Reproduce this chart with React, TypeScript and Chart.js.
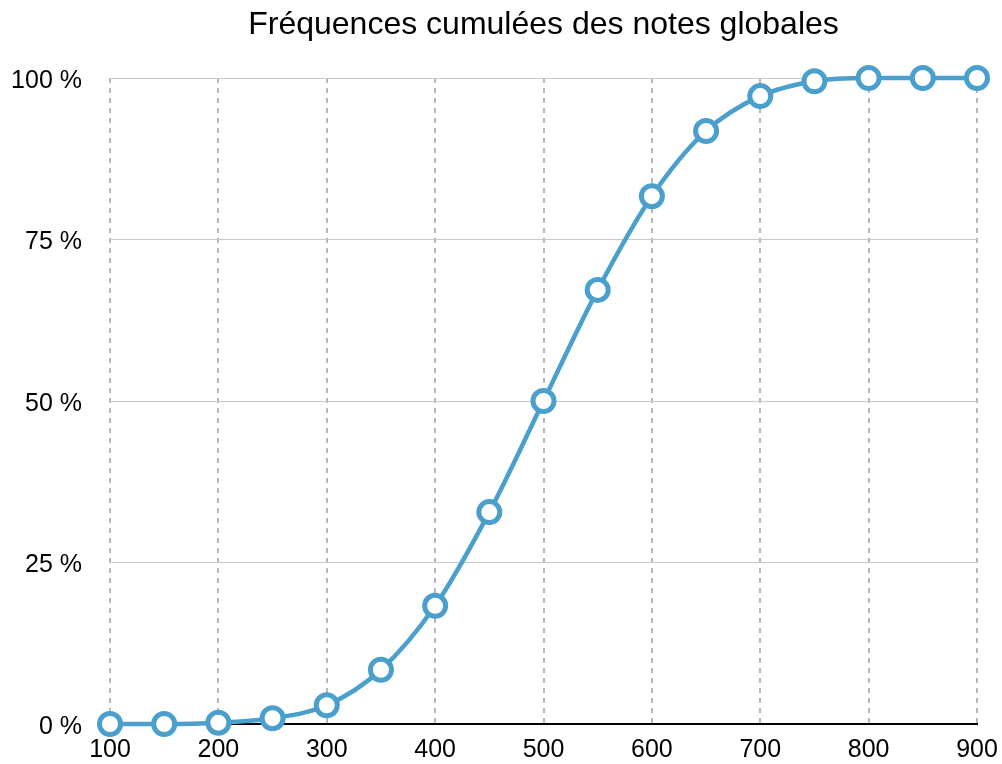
import React, { useEffect, useRef } from "react";
import { Chart, registerables } from "chart.js";

Chart.register(...registerables);

const notes = [100, 150, 200, 250, 300, 350, 400, 450, 500, 550, 600, 650, 700, 750, 800, 850, 900];
const frequences = [0, 0, 0.2, 0.9, 2.9, 8.4, 18.3, 32.8, 50.0, 67.2, 81.7, 91.8, 97.2, 99.5, 100, 100, 100];
const yTicks = [0, 25, 50, 75, 100];
const titre = "Fréquences cumulées des notes globales";

const BLUE = "#4a9fcc";
const FONT = "'Liberation Sans', Arial, Helvetica, sans-serif";

export default function App() {
  const ref = useRef<HTMLCanvasElement | null>(null);

  useEffect(() => {
    document.body.style.margin = "0";
    const ctx = ref.current!.getContext("2d")!;
    const chart = new Chart(ctx, {
      type: "line",
      data: {
        datasets: [
          {
            data: notes.map((x, i) => ({ x, y: frequences[i] })),
            borderColor: BLUE,
            borderWidth: 4.5,
            backgroundColor: "#ffffff",
            pointBackgroundColor: "#ffffff",
            pointBorderColor: BLUE,
            pointBorderWidth: 5,
            pointRadius: 10.5,
            cubicInterpolationMode: "monotone",
            clip: false,
            fill: false,
          },
        ],
      },
      options: {
        responsive: false,
        animation: false,
        layout: { padding: { left: 0, right: 25, top: 0, bottom: 0 } },
        plugins: {
          legend: { display: false },
          tooltip: { enabled: false },
          title: {
            display: true,
            text: titre,
            fullSize: false,
            color: "#000",
            font: { family: FONT, size: 32, weight: "normal" },
            padding: { top: 6, bottom: 33.6 },
          },
        },
        scales: {
          x: {
            type: "linear",
            min: 100,
            max: 900,
            afterFit: (s: any) => {
              s.height = 40;
              s.paddingLeft = 0;
              s.paddingRight = 0;
            },
            ticks: {
              stepSize: 100,
              padding: 11,
              color: "#000",
              font: { family: FONT, size: 25 },
              maxRotation: 0,
            },
            grid: {
              color: "#b8b8b8",
              lineWidth: 2,
              drawTicks: false,
            },
            border: { display: true, color: "#000", width: 2, dash: [5, 5] },
          },
          y: {
            min: 0,
            max: 100,
            afterFit: (s: any) => {
              s.width = 110;
              s.paddingTop = 0;
              s.paddingBottom = 0;
            },
            afterBuildTicks: (s: any) => {
              s.ticks = yTicks.map((v) => ({ value: v }));
            },
            ticks: {
              padding: 28,
              labelOffset: 3,
              color: "#000",
              font: { family: FONT, size: 25 },
              callback: (v: any) => `${v} %`,
            },
            grid: {
              color: "#c8c8c8",
              lineWidth: 1,
              drawTicks: false,
            },
            border: { display: false },
          },
        },
      },
    });
    return () => chart.destroy();
  }, []);

  return (
    <div style={{ position: "relative", width: 1002, height: 764 }}>
      <canvas ref={ref} width={1002} height={764} />
    </div>
  );
}
